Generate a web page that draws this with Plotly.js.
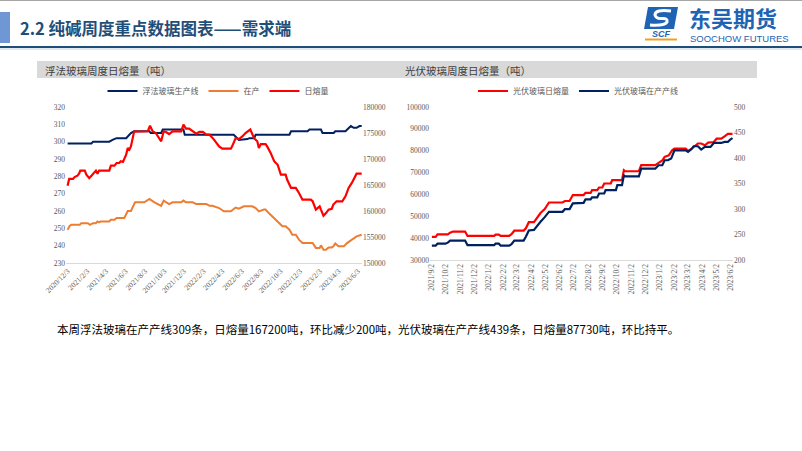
<!DOCTYPE html>
<html><head><meta charset="utf-8">
<script src="https://cdn.plot.ly/plotly-3.0.1.min.js"></script>
<style>html,body{margin:0;padding:0;background:#fff;}#chart{width:802px;height:451px;}</style>
</head><body><div id="chart"></div>
<script>
// ---------- Left chart: 浮法玻璃 ----------
const floatLineDates = ['2020-12-03','2021-02-16','2021-02-21','2021-04-13','2021-04-23','2021-05-06','2021-06-05','2021-06-15','2021-06-20','2021-06-30','2021-08-17','2021-08-21','2021-09-23','2021-09-28','2021-12-02','2021-12-06','2022-05-09','2022-05-20','2022-05-25','2022-06-21','2022-06-27','2022-07-12','2022-07-17','2022-10-31','2022-11-05','2022-12-27','2023-01-02','2023-02-07','2023-02-12','2023-03-19','2023-03-24','2023-04-25','2023-05-05','2023-05-12','2023-05-21','2023-05-30','2023-06-08','2023-06-15'];
const floatLineValues = [299,299,300,300,301,302,302,304,305,306,306,305,305,307,307,304,304,302,301,301.5,302,302,304,304,306,306,307,307,305,305,306,306,308,309,308,308,309,309];

const floatActiveDates = ['2020-12-03','2020-12-10','2020-12-15','2021-01-10','2021-01-15','2021-02-05','2021-02-11','2021-02-21','2021-03-02','2021-03-07','2021-03-12','2021-03-17','2021-04-13','2021-04-18','2021-04-29','2021-05-06','2021-05-30','2021-06-05','2021-06-10','2021-06-20','2021-06-25','2021-07-03','2021-08-01','2021-08-17','2021-09-02','2021-09-23','2021-10-01','2021-10-08','2021-10-18','2021-10-29','2021-11-25','2021-12-02','2021-12-10','2021-12-31','2022-01-11','2022-02-12','2022-02-22','2022-03-03','2022-03-24','2022-04-08','2022-04-30','2022-05-15','2022-05-25','2022-06-10','2022-07-06','2022-07-17','2022-07-27','2022-08-12','2022-08-17','2022-08-27','2022-09-13','2022-09-29','2022-10-09','2022-10-19','2022-10-31','2022-11-09','2022-11-20','2022-11-30','2022-12-11','2023-01-12','2023-01-22','2023-02-03','2023-02-07','2023-02-15','2023-02-23','2023-03-03','2023-03-13','2023-03-18','2023-03-24','2023-04-03','2023-04-20','2023-04-30','2023-05-15','2023-05-30','2023-06-15'];
const floatActiveValues = [249.2,251.5,252,252,253,253,252,253,253,254,253.5,254,254,255,255,256,256,258,260,260,262,265,265,267,265,263,266,265,264,265,265,266,265,265,264,264,263,263,261.7,259.8,259.8,262,261.3,262.7,262.7,261.7,259.8,260.8,260.8,258.8,256,253.1,251.2,251.2,249.2,246.3,246.3,243.5,241.5,241.5,238.7,238.7,240.2,237.7,237.7,239,239,239.6,241.2,239.6,239.6,241.5,243.5,245.4,246.3];

const floatMeltDates = ['2020-12-03','2020-12-08','2020-12-20','2020-12-25','2021-01-03','2021-01-08','2021-01-12','2021-01-26','2021-01-31','2021-02-09','2021-02-16','2021-02-21','2021-03-02','2021-03-07','2021-03-12','2021-04-13','2021-04-18','2021-04-29','2021-05-06','2021-05-14','2021-05-19','2021-05-26','2021-06-05','2021-06-10','2021-06-15','2021-06-20','2021-06-30','2021-08-12','2021-08-19','2021-08-27','2021-09-06','2021-09-23','2021-10-01','2021-10-08','2021-10-18','2021-10-29','2021-11-25','2021-12-02','2021-12-10','2021-12-20','2021-12-29','2022-01-11','2022-01-21','2022-02-01','2022-02-12','2022-02-22','2022-03-08','2022-03-24','2022-04-03','2022-04-30','2022-05-04','2022-05-15','2022-05-25','2022-06-05','2022-06-15','2022-06-27','2022-06-30','2022-07-12','2022-07-22','2022-07-27','2022-08-02','2022-08-17','2022-08-22','2022-09-02','2022-09-13','2022-09-24','2022-10-04','2022-10-19','2022-10-24','2022-11-05','2022-11-20','2022-11-30','2022-12-11','2023-01-06','2023-01-12','2023-01-22','2023-02-03','2023-02-07','2023-02-15','2023-02-23','2023-03-03','2023-03-13','2023-03-18','2023-03-28','2023-04-15','2023-04-25','2023-05-05','2023-05-15','2023-05-30','2023-06-08','2023-06-15'];
const floatMeltValues = [164870,166170,166170,166530,166800,167170,167770,167770,167000,166330,166800,167170,167770,167170,167770,167770,168730,168730,169230,169230,169570,169430,170830,172100,171800,172430,175270,175330,176400,175330,175000,173400,175330,175200,174800,175330,175330,176600,175830,175830,175500,174870,175200,175200,174670,174670,173730,172430,172000,172000,172430,174030,173830,174330,175000,175630,175670,174000,173400,172100,172870,172870,172430,171170,169570,168900,167000,167000,166000,164430,164430,163470,162170,162170,161870,160270,160900,160270,159100,159600,160270,160430,161230,161870,161870,162830,164430,165400,167170,167170,167200];

const floatTickVals = ['2020-12-03','2021-02-03','2021-04-03','2021-06-03','2021-08-03','2021-10-03','2021-12-03','2022-02-03','2022-04-03','2022-06-03','2022-08-03','2022-10-03','2022-12-03','2023-02-03','2023-04-03','2023-06-03'];
const floatTickText = ['2020/12/3','2021/2/3','2021/4/3','2021/6/3','2021/8/3','2021/10/3','2021/12/3','2022/2/3','2022/4/3','2022/6/3','2022/8/3','2022/10/3','2022/12/3','2023/2/3','2023/4/3','2023/6/3'];

// ---------- Right chart: 光伏玻璃 ----------
const pvMeltDates = ['2021-09-02','2021-09-10','2021-09-14','2021-10-06','2021-10-11','2021-10-17','2021-11-12','2021-11-17','2022-01-13','2022-01-16','2022-01-23','2022-01-27','2022-02-14','2022-02-19','2022-02-25','2022-03-17','2022-03-22','2022-03-28','2022-04-08','2022-04-15','2022-04-22','2022-05-01','2022-05-10','2022-06-08','2022-06-13','2022-06-23','2022-06-30','2022-07-23','2022-07-27','2022-08-07','2022-08-10','2022-08-21','2022-08-25','2022-09-01','2022-09-05','2022-09-19','2022-09-22','2022-10-13','2022-10-17','2022-10-20','2022-11-18','2022-11-23','2022-12-23','2022-12-30','2023-01-07','2023-01-12','2023-01-21','2023-01-28','2023-02-02','2023-02-26','2023-03-03','2023-03-10','2023-03-15','2023-03-24','2023-03-31','2023-04-08','2023-04-15','2023-04-27','2023-05-03','2023-05-13','2023-05-20','2023-05-27','2023-06-06'];
const pvMeltValues = [40600,40600,41700,41700,42500,43000,43000,41000,41000,41600,41600,41000,41000,41800,43400,43400,44600,47300,47300,49500,51500,53300,56300,56300,57000,57000,59700,59700,60700,60700,61950,61950,63170,63170,65000,65000,66500,66500,71100,70600,70600,73400,73400,74400,75500,77200,77900,80200,81000,81000,79900,80800,81700,83300,83300,82500,83700,84000,85500,85500,86600,87730,87730];

const pvLineDates = ['2021-09-02','2021-09-10','2021-09-14','2021-10-01','2021-10-06','2021-10-11','2021-11-12','2021-11-17','2022-01-13','2022-01-16','2022-01-23','2022-01-27','2022-02-14','2022-02-19','2022-02-25','2022-03-17','2022-03-22','2022-03-28','2022-04-08','2022-04-15','2022-04-22','2022-05-01','2022-05-10','2022-06-08','2022-06-13','2022-06-23','2022-06-30','2022-07-23','2022-07-27','2022-08-07','2022-08-10','2022-08-21','2022-08-25','2022-09-05','2022-09-08','2022-09-30','2022-10-03','2022-10-13','2022-10-17','2022-10-20','2022-11-18','2022-11-23','2022-12-23','2022-12-30','2023-01-07','2023-01-12','2023-01-19','2023-01-26','2023-02-02','2023-02-26','2023-03-03','2023-03-10','2023-03-15','2023-03-24','2023-03-31','2023-04-08','2023-04-20','2023-04-27','2023-05-13','2023-05-20','2023-05-27','2023-06-01','2023-06-06'];
const pvLineValues = [228,228,232,232,234,238,238,229,229,232,232,228,228,231,238,238,246,258,259,268,275,284,294.5,294.5,299.7,299.7,311,312,318.7,318.7,322.6,322.6,330.4,330.4,337,337,346.7,346.7,366,364,364,379,379,385.8,385.8,395.6,395.6,398.9,415,415,412,417,423,423,416.5,421.7,421.7,429.5,429.5,431.5,431.5,436,439];

const pvTickVals = ['2021-09-02','2021-10-02','2021-11-02','2021-12-02','2022-01-02','2022-02-02','2022-03-02','2022-04-02','2022-05-02','2022-06-02','2022-07-02','2022-08-02','2022-09-02','2022-10-02','2022-11-02','2022-12-02','2023-01-02','2023-02-02','2023-03-02','2023-04-02','2023-05-02','2023-06-02'];
const pvTickText = ['2021/9/2','2021/10/2','2021/11/2','2021/12/2','2022/1/2','2022/2/2','2022/3/2','2022/4/2','2022/5/2','2022/6/2','2022/7/2','2022/8/2','2022/9/2','2022/10/2','2022/11/2','2022/12/2','2023/1/2','2023/2/2','2023/3/2','2023/4/2','2023/5/2','2023/6/2'];

const headerTitle = '2.2 纯碱周度重点数据图表——需求端';
const leftPanelTitle = '浮法玻璃周度日熔量（吨）';
const rightPanelTitle = '光伏玻璃周度日熔量（吨）';
const summaryText = '本周浮法玻璃在产产线309条，日熔量167200吨，环比减少200吨，光伏玻璃在产产线439条，日熔量87730吨，环比持平。';

// ---------- helpers ----------
const W = 802, H = 451;
const px = x => x / W;
const py = y => 1 - y / H;
const NAVY = '#002060', ORANGE = '#ED7D31', RED = '#FF0000';
const tickFont = {family: '"Liberation Serif", serif', size: 7.5, color: '#595959'};
const CJK = '"Noto Sans CJK SC", "Noto Sans", sans-serif';

const traces = [
  {type:'scatter', mode:'lines', name:'浮法玻璃生产线', x: floatLineDates, y: floatLineValues, xaxis:'x', yaxis:'y', line:{color:NAVY, width:2}, legend:'legend'},
  {type:'scatter', mode:'lines', name:'在产', x: floatActiveDates, y: floatActiveValues, xaxis:'x', yaxis:'y', line:{color:ORANGE, width:2}, legend:'legend'},
  {type:'scatter', mode:'lines', name:'日熔量', x: floatMeltDates, y: floatMeltValues, xaxis:'x', yaxis:'y2', line:{color:RED, width:2.2}, legend:'legend'},
  {type:'scatter', mode:'lines', name:'光伏玻璃日熔量', x: pvMeltDates, y: pvMeltValues, xaxis:'x2', yaxis:'y3', line:{color:RED, width:2.2}, legend:'legend2'},
  {type:'scatter', mode:'lines', name:'光伏玻璃在产产线', x: pvLineDates, y: pvLineValues, xaxis:'x2', yaxis:'y4', line:{color:NAVY, width:2.2}, legend:'legend2'}
];

const xCommon = {type:'date', showline:true, linecolor:'#d9d9d9', linewidth:1, showgrid:false, zeroline:false, ticks:'', tickfont:tickFont, fixedrange:true, tickmode:'array'};
const yCommon = {showline:false, showgrid:false, zeroline:false, ticks:'', tickfont:tickFont, fixedrange:true, tickformat:'d'};

const layout = {
  width: W, height: H,
  margin: {l:0, r:0, t:0, b:0},
  paper_bgcolor:'#ffffff', plot_bgcolor:'rgba(0,0,0,0)',
  font: {family: CJK, color:'#595959'},
  xaxis: Object.assign({}, xCommon, {domain:[px(66), px(362)], anchor:'y', range:['2020-11-28','2023-06-16'], tickvals: floatTickVals, ticktext: floatTickText, tickangle:-45}),
  yaxis: Object.assign({}, yCommon, {domain:[py(263), py(107)], anchor:'x', range:[230,320], dtick:10, tick0:230}),
  yaxis2: Object.assign({}, yCommon, {overlaying:'y', side:'right', anchor:'x', range:[150000,180000], dtick:5000, tick0:150000}),
  xaxis2: Object.assign({}, xCommon, {domain:[px(430), px(733)], anchor:'y3', range:['2021-08-29','2023-06-07'], tickvals: pvTickVals, ticktext: pvTickText, tickangle:-90}),
  yaxis3: Object.assign({}, yCommon, {domain:[py(260), py(107)], anchor:'x2', range:[30000,100000], dtick:10000, tick0:30000}),
  yaxis4: Object.assign({}, yCommon, {overlaying:'y3', side:'right', anchor:'x2', range:[200,500], dtick:50, tick0:200}),
  showlegend: true,
  legend: {orientation:'h', x: px(218), xanchor:'center', y: py(91), yanchor:'middle', font:{family:CJK, size:8, color:'#595959'}, bgcolor:'rgba(0,0,0,0)', itemwidth:30, tracegroupgap:0},
  legend2: {orientation:'h', x: px(578), xanchor:'center', y: py(91), yanchor:'middle', font:{family:CJK, size:8, color:'#595959'}, bgcolor:'rgba(0,0,0,0)', itemwidth:30},
  shapes: [
    {type:'line', xref:'paper', yref:'paper', x0:0, x1:1, y0:py(0.5), y1:py(0.5), line:{color:'#a6a6a6', width:1}},
    {type:'rect', xref:'paper', yref:'paper', x0:px(0), x1:px(10), y0:py(43), y1:py(12), fillcolor:'#6f97d3', line:{width:0}},
    {type:'line', xref:'paper', yref:'paper', x0:0, x1:1, y0:py(47), y1:py(47), line:{color:'#1f4e79', width:2}},
    {type:'line', xref:'paper', yref:'paper', x0:0, x1:1, y0:py(49), y1:py(49), line:{color:'#c9d3e3', width:1}},
    {type:'rect', xref:'paper', yref:'paper', x0:px(37), x1:px(757), y0:py(78), y1:py(61), fillcolor:'#d9d9d9', line:{width:0}, layer:'below'},
    // logo icon
    {type:'path', xref:'paper', yref:'paper', path:`M ${px(648)} ${py(7)} L ${px(678)} ${py(7)} L ${px(674)} ${py(29)} L ${px(644)} ${py(29)} Z`, fillcolor:'#1f64b4', line:{width:0}},
    {type:'path', xref:'paper', yref:'paper', path:`M ${px(671)} ${py(11)} Q ${px(655)} ${py(9)} ${px(655)} ${py(15)} Q ${px(656)} ${py(19)} ${px(662)} ${py(18.5)} Q ${px(668)} ${py(18)} ${px(667)} ${py(22)} Q ${px(665)} ${py(26)} ${px(650)} ${py(25)}`, line:{color:'#ffffff', width:3}},
    {type:'line', xref:'paper', yref:'paper', x0:px(645), x1:px(677), y0:py(39.5), y1:py(39.5), line:{color:'#f0a020', width:2}}
  ],
  annotations: [
    {xref:'paper', yref:'paper', x:px(18), y:py(28), xanchor:'left', yanchor:'middle', text:'<b>'+headerTitle+'</b>', showarrow:false, font:{family:CJK, size:16.5, color:'#1f4e79'}},
    {xref:'paper', yref:'paper', x:px(687), y:py(17), xanchor:'left', yanchor:'middle', text:'<b>东吴期货</b>', showarrow:false, font:{family:CJK, size:22, color:'#1f64b4'}},
    {xref:'paper', yref:'paper', x:px(688), y:py(38.5), xanchor:'left', yanchor:'middle', text:'SOOCHOW FUTURES', showarrow:false, font:{family:'"Liberation Sans", Arial, sans-serif', size:9.5, color:'#1f64b4'}},
    {xref:'paper', yref:'paper', x:px(661), y:py(34), xanchor:'center', yanchor:'middle', text:'<b><i>SCF</i></b>', showarrow:false, font:{family:'"Liberation Sans", Arial, sans-serif', size:9, color:'#1f64b4'}},
    {xref:'paper', yref:'paper', x:px(43), y:py(70), xanchor:'left', yanchor:'middle', text:leftPanelTitle, showarrow:false, font:{family:CJK, size:10.5, color:'#404040'}},
    {xref:'paper', yref:'paper', x:px(403), y:py(70), xanchor:'left', yanchor:'middle', text:rightPanelTitle, showarrow:false, font:{family:CJK, size:10.5, color:'#404040'}},
    {xref:'paper', yref:'paper', x:px(55), y:py(329), xanchor:'left', yanchor:'middle', text:summaryText, showarrow:false, font:{family:CJK, size:11.5, color:'#000000'}}
  ]
};

Plotly.newPlot('chart', traces, layout, {staticPlot:true, displayModeBar:false});
</script>
</body></html>
